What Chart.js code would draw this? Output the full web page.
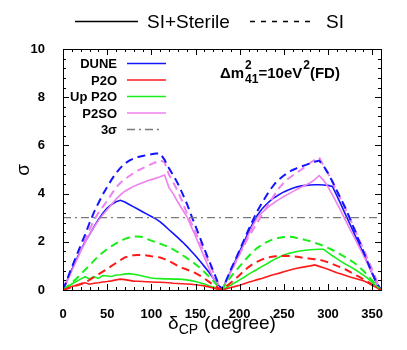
<!DOCTYPE html>
<html>
<head>
<meta charset="utf-8">
<script src="https://cdn.jsdelivr.net/npm/chart.js@4"></script>
<style>
  html, body { margin: 0; padding: 0; background: #fff; }
  #wrap { width: 407px; height: 350px; }
</style>
</head>
<body>
<div id="wrap"><canvas id="c" width="407" height="350"></canvas></div>
<script>
// delta_CP in degrees
const angles = [0, 5, 10, 15, 20, 25, 30, 35, 40, 45, 50, 55, 60, 65, 70, 75, 80, 85, 90, 95,
    100, 105, 110, 115, 120, 125, 130, 135, 140, 145, 150, 155, 160, 165, 170, 175, 180,
    185, 190, 195, 200, 205, 210, 215, 220, 225, 230, 235, 240, 245, 250, 255, 260, 265,
    270, 275, 280, 285, 290, 295, 300, 305, 310, 315, 320, 325, 330, 335, 340, 345, 350, 355, 360];

// sigma, SI + sterile (solid)
const duneSterile = [0, 0.42, 0.85, 1.25, 1.65, 2.0, 2.3, 2.62, 2.92, 3.18, 3.4, 3.55, 3.66, 3.72, 3.65, 3.55, 3.45, 3.35, 3.25, 3.15,
    3.05, 2.95, 2.83, 2.67, 2.5, 2.34, 2.17, 2.0, 1.82, 1.62, 1.42, 1.2, 0.98, 0.75, 0.5, 0.25, 0,
    0.4, 0.8, 1.2, 1.6, 2.0, 2.4, 2.78, 3.1, 3.35, 3.55, 3.72, 3.85, 3.97, 4.07, 4.15, 4.22, 4.28,
    4.32, 4.34, 4.36, 4.37, 4.37, 4.36, 4.34, 4.3, 3.92, 3.52, 3.12, 2.72, 2.32, 1.92, 1.52, 1.1, 0.68, 0.28, 0];
const p2oSterile = [0, 0.07, 0.15, 0.2, 0.26, 0.3, 0.24, 0.28, 0.3, 0.33, 0.35, 0.38, 0.42, 0.45, 0.43, 0.4, 0.37, 0.36, 0.35, 0.34,
    0.33, 0.32, 0.32, 0.31, 0.3, 0.28, 0.27, 0.26, 0.25, 0.24, 0.22, 0.2, 0.17, 0.13, 0.08, 0.03, 0,
    0.05, 0.1, 0.15, 0.2, 0.26, 0.32, 0.37, 0.43, 0.48, 0.54, 0.6, 0.65, 0.7, 0.76, 0.81, 0.86, 0.9,
    0.94, 0.97, 1.0, 1.04, 0.98, 0.92, 0.86, 0.79, 0.72, 0.66, 0.6, 0.54, 0.49, 0.44, 0.38, 0.3, 0.2, 0.1, 0];
const upP2oSterile = [0, 0.12, 0.25, 0.35, 0.45, 0.55, 0.46, 0.55, 0.48, 0.6, 0.58, 0.56, 0.62, 0.63, 0.66, 0.68, 0.65, 0.62, 0.58, 0.54,
    0.5, 0.48, 0.47, 0.46, 0.46, 0.45, 0.45, 0.44, 0.42, 0.39, 0.35, 0.3, 0.25, 0.18, 0.12, 0.05, 0,
    0.1, 0.2, 0.31, 0.42, 0.53, 0.65, 0.76, 0.86, 0.97, 1.07, 1.18, 1.28, 1.37, 1.45, 1.51, 1.56, 1.6,
    1.63, 1.65, 1.67, 1.68, 1.69, 1.69, 1.55, 1.42, 1.3, 1.18, 1.07, 0.97, 0.86, 0.74, 0.62, 0.48, 0.32, 0.15, 0];
const p2soSterile = [0, 0.4, 0.8, 1.2, 1.6, 1.97, 2.3, 2.6, 2.88, 3.12, 3.33, 3.55, 3.77, 3.95, 4.1, 4.2, 4.3, 4.38, 4.45, 4.52,
    4.58, 4.64, 4.7, 4.77, 4.25, 3.98, 3.65, 3.35, 3.06, 2.65, 2.23, 1.8, 1.35, 0.92, 0.5, 0.15, 0,
    0.37, 0.75, 1.12, 1.5, 1.9, 2.3, 2.68, 3.0, 3.2, 3.37, 3.52, 3.65, 3.77, 3.88, 3.98, 4.08, 4.18,
    4.27, 4.36, 4.45, 4.58, 4.75, 4.55, 4.28, 3.95, 3.6, 3.25, 2.88, 2.52, 2.17, 1.8, 1.45, 1.08, 0.7, 0.3, 0];

// sigma, SI only (dashed)
const duneSI = [0, 0.47, 0.95, 1.4, 1.85, 2.3, 2.78, 3.22, 3.6, 3.96, 4.28, 4.58, 4.85, 5.07, 5.25, 5.37, 5.46, 5.52, 5.56, 5.6,
    5.63, 5.66, 5.67, 5.4, 5.05, 4.75, 4.42, 4.02, 3.6, 3.12, 2.65, 2.18, 1.7, 1.25, 0.8, 0.35, 0,
    0.42, 0.85, 1.25, 1.66, 2.08, 2.5, 2.9, 3.28, 3.6, 3.9, 4.18, 4.42, 4.6, 4.75, 4.88, 4.98, 5.06,
    5.13, 5.19, 5.26, 5.32, 5.37, 5.15, 4.85, 4.5, 4.12, 3.75, 3.38, 2.95, 2.5, 2.05, 1.6, 1.15, 0.7, 0.3, 0];
const p2oSI = [0, 0.06, 0.12, 0.18, 0.24, 0.32, 0.42, 0.53, 0.65, 0.76, 0.88, 1.0, 1.12, 1.24, 1.35, 1.41, 1.44, 1.45, 1.45, 1.43,
    1.4, 1.38, 1.35, 1.28, 1.2, 1.1, 1.0, 0.92, 0.85, 0.78, 0.7, 0.6, 0.48, 0.35, 0.22, 0.1, 0,
    0.15, 0.3, 0.46, 0.62, 0.8, 0.95, 1.08, 1.18, 1.26, 1.33, 1.37, 1.4, 1.41, 1.42, 1.41, 1.4, 1.38,
    1.35, 1.32, 1.3, 1.28, 1.26, 1.21, 1.15, 1.08, 1.0, 0.93, 0.85, 0.75, 0.65, 0.55, 0.45, 0.34, 0.22, 0.1, 0];
const upP2oSI = [0, 0.15, 0.3, 0.47, 0.65, 0.84, 1.02, 1.22, 1.4, 1.56, 1.7, 1.82, 1.93, 2.03, 2.12, 2.18, 2.22, 2.22, 2.2, 2.12,
    2.05, 1.98, 1.92, 1.85, 1.78, 1.68, 1.57, 1.45, 1.33, 1.2, 1.07, 0.92, 0.75, 0.57, 0.38, 0.17, 0,
    0.3, 0.55, 0.77, 0.98, 1.2, 1.4, 1.58, 1.75, 1.87, 1.98, 2.06, 2.12, 2.17, 2.2, 2.21, 2.2, 2.16,
    2.12, 2.07, 2.02, 1.96, 1.9, 1.83, 1.75, 1.66, 1.57, 1.46, 1.35, 1.24, 1.12, 0.97, 0.8, 0.6, 0.4, 0.18, 0];
const p2soSI = [0, 0.42, 0.85, 1.28, 1.7, 2.1, 2.5, 2.88, 3.2, 3.45, 3.7, 3.98, 4.25, 4.45, 4.6, 4.73, 4.85, 4.96, 5.05, 5.14,
    5.22, 5.3, 5.38, 5.3, 4.78, 4.45, 4.1, 3.68, 3.2, 2.8, 2.4, 1.97, 1.55, 1.15, 0.75, 0.3, 0,
    0.37, 0.75, 1.12, 1.5, 1.85, 2.2, 2.5, 2.8, 3.1, 3.4, 3.7, 3.98, 4.25, 4.45, 4.62, 4.75, 4.88,
    5.0, 5.14, 5.28, 5.4, 5.5, 5.15, 4.85, 4.48, 4.1, 3.72, 3.35, 2.95, 2.55, 2.12, 1.7, 1.28, 0.85, 0.4, 0];

const sigmaRef = 3;
const xRange = [0, 360];
const yRange = [0, 10];
const xTickLabels = [0, 50, 100, 150, 200, 250, 300, 350];

const BLUE = "#1414ff";
const RED = "#ff1a1a";
const GREEN = "#1aee1a";
const VIOLET = "#ee82ee";
const GRAY = "#7a7a7a";
const SI_DASH = [8, 5];
const FONT = "'Liberation Sans', Arial, Helvetica, sans-serif";

const pts = (vals) => angles.map((a, i) => ({ x: a, y: vals[i] }));

function line(vals, color, dashed) {
    return {
        data: pts(vals),
        borderColor: color,
        borderWidth: dashed ? 2 : 1.6,
        borderDash: dashed ? SI_DASH : [],
        pointRadius: 0,
        tension: 0,
        fill: false,
    };
}

// inward ticks on all four sides, frame, titles and the two legends
const decorPlugin = {
    id: "decor",
    afterDatasetsDraw(chart) {
        const { ctx, chartArea: a, scales } = chart;
        const xs = scales.x, ys = scales.y;
        ctx.save();
        ctx.strokeStyle = "#000";
        ctx.lineWidth = 1;
        ctx.setLineDash([]);
        ctx.beginPath();
        for (let v = 0; v <= 360; v += 10) {
            const px = Math.round(xs.getPixelForValue(v)) + 0.5;
            const len = v % 50 === 0 ? 6 : 3;
            ctx.moveTo(px, a.bottom); ctx.lineTo(px, a.bottom - len);
            ctx.moveTo(px, a.top); ctx.lineTo(px, a.top + len);
        }
        for (let k = 0; k <= 25; k++) {
            const v = k * 0.4;
            const py = Math.round(ys.getPixelForValue(v)) + 0.5;
            const len = k % 5 === 0 ? 6 : 3;
            ctx.moveTo(a.left, py); ctx.lineTo(a.left + len, py);
            ctx.moveTo(a.right, py); ctx.lineTo(a.right - len, py);
        }
        ctx.stroke();
        ctx.strokeRect(Math.round(a.left) + 0.5, Math.round(a.top) + 0.5,
            Math.round(a.right - a.left), Math.round(a.bottom - a.top));

        // x title: delta_CP (degree)
        ctx.fillStyle = "#000";
        ctx.textBaseline = "alphabetic";
        ctx.textAlign = "left";
        const big = "19px " + FONT, small = "14px " + FONT;
        ctx.font = big;
        const w1 = ctx.measureText("\u03b4").width;
        const w3 = ctx.measureText("(degree)").width;
        const gap = 6;
        ctx.font = small;
        const w2 = ctx.measureText("CP").width;
        let x0 = (a.left + a.right) / 2 - (w1 + w2 + gap + w3) / 2;
        const by = 329;
        ctx.font = big; ctx.fillText("\u03b4", x0, by);
        ctx.font = small; ctx.fillText("CP", x0 + w1, by + 5);
        ctx.font = big; ctx.fillText("(degree)", x0 + w1 + w2 + gap, by);

        // y title: sigma, rotated
        ctx.save();
        ctx.translate(29, 170);
        ctx.rotate(-Math.PI / 2);
        ctx.textAlign = "center";
        ctx.font = "19px " + FONT;
        ctx.fillText("\u03c3", 0, 0);
        ctx.restore();

        // top legend
        ctx.font = "19px " + FONT;
        ctx.lineWidth = 1.5;
        ctx.beginPath(); ctx.moveTo(75, 21.5); ctx.lineTo(138, 21.5); ctx.stroke();
        ctx.fillText("SI+Sterile", 147, 28);
        ctx.setLineDash([5, 6]);
        ctx.beginPath(); ctx.moveTo(250, 21.5); ctx.lineTo(316, 21.5); ctx.stroke();
        ctx.setLineDash([]);
        ctx.fillText("SI", 326, 28);

        // inner legend
        const rows = [
            ["DUNE", BLUE, []],
            ["P2O", RED, []],
            ["Up P2O", GREEN, []],
            ["P2SO", VIOLET, []],
            ["3\u03c3", GRAY, [8, 4, 2, 4]],
        ];
        ctx.font = "bold 13px " + FONT;
        ctx.textAlign = "right";
        rows.forEach((r, i) => {
            const y = 63.5 + i * 16.5;
            ctx.fillStyle = "#000";
            ctx.fillText(r[0], 117, y + 4.5);
            ctx.strokeStyle = r[1];
            ctx.lineWidth = 1.6;
            ctx.setLineDash(r[2]);
            ctx.beginPath(); ctx.moveTo(127, y); ctx.lineTo(i === 4 ? 162 : 166, y); ctx.stroke();
        });
        ctx.setLineDash([]);

        // mass-splitting annotation
        ctx.textAlign = "left";
        ctx.fillStyle = "#000";
        let x = 220;
        const base = 78;
        const seg = (t, f, dy) => { ctx.font = f; ctx.fillText(t, x, base + dy); return ctx.measureText(t).width; };
        const mainF = "bold 15px " + FONT, supF = "bold 12px " + FONT;
        x += seg("\u0394m", mainF, 0) + 1;
        const supW = seg("2", supF, -9);
        const subW = seg("41", supF, 5);
        x += Math.max(supW, subW);
        x += seg("=10eV", mainF, 0) + 1;
        x += seg("2", supF, -9);
        seg("(FD)", mainF, 0);
        ctx.restore();
    },
};

new Chart(document.getElementById("c"), {
    type: "line",
    data: {
        datasets: [
            {
                data: xRange.map((v) => ({ x: v, y: sigmaRef })),
                borderColor: GRAY,
                borderWidth: 1.2,
                borderDash: [8, 4, 2, 4],
                pointRadius: 0,
            },
            line(p2oSI, RED, true),
            line(upP2oSI, GREEN, true),
            line(p2oSterile, RED, false),
            line(upP2oSterile, GREEN, false),
            line(duneSI, BLUE, true),
            line(p2soSI, VIOLET, true),
            line(p2soSterile, VIOLET, false),
            line(duneSterile, BLUE, false),
        ],
    },
    options: {
        responsive: false,
        animation: false,
        layout: { padding: { top: 49, right: 26, left: 0, bottom: 0 } },
        plugins: { legend: { display: false }, tooltip: { enabled: false } },
        scales: {
            x: {
                type: "linear",
                min: xRange[0],
                max: xRange[1],
                grid: { display: false },
                border: { display: false },
                afterBuildTicks: (s) => { s.ticks = xTickLabels.map((v) => ({ value: v })); },
                ticks: {
                    autoSkip: false,
                    maxRotation: 0,
                    padding: 9,
                    color: "#000",
                    font: { family: FONT, size: 13, weight: "bold" },
                },
                afterFit: (s) => { s.height = 60; },
            },
            y: {
                min: yRange[0],
                max: yRange[1],
                grid: { display: false },
                border: { display: false },
                ticks: {
                    stepSize: 2,
                    padding: 10,
                    color: "#000",
                    font: { family: FONT, size: 13, weight: "bold" },
                },
                afterFit: (s) => { s.width = 63; },
            },
        },
    },
    plugins: [decorPlugin],
});
</script>
</body>
</html>
